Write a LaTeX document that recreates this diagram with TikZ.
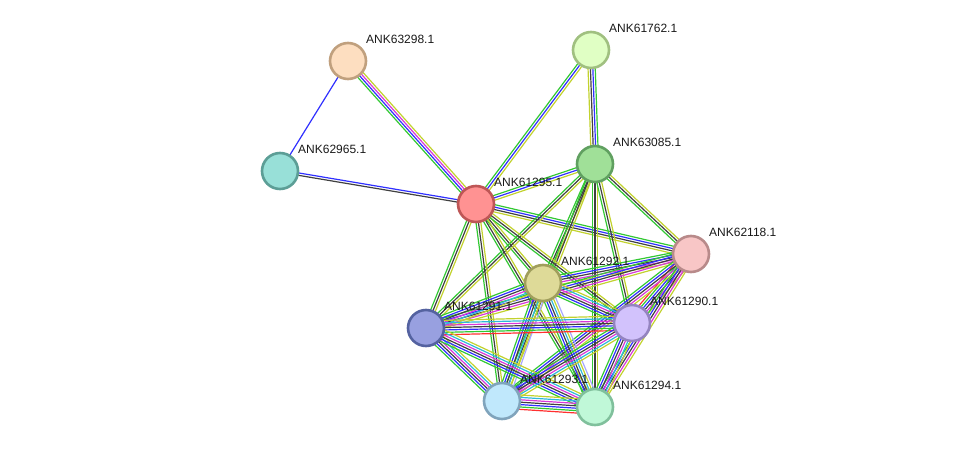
\documentclass[tikz,border=0pt]{standalone}
\usepackage{fontspec}
\setmainfont{Liberation Sans}
\usetikzlibrary{calc,backgrounds}

\definecolor{sgreen}{HTML}{33C833}
\definecolor{sblue}{HTML}{3030FF}
\definecolor{sblack}{HTML}{404040}
\definecolor{smagenta}{HTML}{D838D8}
\definecolor{scyan}{HTML}{30B8D8}
\definecolor{syellow}{HTML}{C2D22E}
\definecolor{sred}{HTML}{FF3030}
\definecolor{shomol}{HTML}{A8A8FF}

\newcommand{\stredge}[3]{%
  \foreach \c [count=\i] in {#3} {\xdef\nlines{\i}}%
  \foreach \c [count=\i] in {#3} {
    \pgfmathsetmacro{\off}{(\i-(\nlines+1)/2)*2.4}
    \draw[\c,evidence] ($(#1.center)!\off pt!90:(#2.center)$) -- ($(#2.center)!\off pt!-90:(#1.center)$);
  }}

\begin{document}
\begin{tikzpicture}[x=1pt,y=-1pt,font=\fontsize{12}{14}\selectfont,
  protein/.style={circle,minimum size=36pt,line width=2.6pt,inner sep=0pt},
  evidence/.style={line width=1.2pt},
  tag/.style={anchor=west,inner sep=0pt,text=black!90}]
  \useasboundingbox (0,0) rectangle (975,453);
  \node[protein,fill={rgb,255:red,253;green,222;blue,192},draw={rgb,255:red,192;green,160;blue,126}] (p63298) at (348,61) {};
  \node[protein,fill={rgb,255:red,152;green,224;blue,216},draw={rgb,255:red,92;green,158;blue,150}] (p62965) at (280,171) {};
  \node[protein,fill={rgb,255:red,255;green,146;blue,146},draw={rgb,255:red,190;green,86;blue,86}] (p61295) at (476,204) {};
  \node[protein,fill={rgb,255:red,224;green,255;blue,196},draw={rgb,255:red,160;green,192;blue,128}] (p61762) at (591,50) {};
  \node[protein,fill={rgb,255:red,160;green,224;blue,152},draw={rgb,255:red,96;green,160;blue,96}] (p63085) at (595,164) {};
  \node[protein,fill={rgb,255:red,248;green,198;blue,198},draw={rgb,255:red,184;green,138;blue,138}] (p62118) at (691,254) {};
  \node[protein,fill={rgb,255:red,222;green,218;blue,152},draw={rgb,255:red,160;green,158;blue,92}] (p61292) at (543,283) {};
  \node[protein,fill={rgb,255:red,210;green,194;blue,252},draw={rgb,255:red,148;green,132;blue,192}] (p61290) at (632,323) {};
  \node[protein,fill={rgb,255:red,152;green,160;blue,224},draw={rgb,255:red,84;green,98;blue,160}] (p61291) at (426,328) {};
  \node[protein,fill={rgb,255:red,192;green,232;blue,252},draw={rgb,255:red,128;green,164;blue,188}] (p61293) at (502,401) {};
  \node[protein,fill={rgb,255:red,192;green,248;blue,216},draw={rgb,255:red,128;green,192;blue,156}] (p61294) at (595,407) {};
  \foreach \p in {63298,62965,61295,61762,63085,62118,61292,61290,61291,61293,61294}
    \node[tag] (l\p) at ($(p\p.center)+(18,-22)$) {ANK\p.1};
  \begin{pgfonlayer}{background}
    \stredge{p63298}{p62965}{sblue}
    \stredge{p63298}{p61295}{sgreen,sblue,smagenta,syellow}
    \stredge{p62965}{p61295}{sblack,sblue}
    \stredge{p61762}{p61295}{sgreen,sblue,syellow}
    \stredge{p61762}{p63085}{syellow,sblack,sblue,sgreen}
    \stredge{p61295}{p63085}{syellow,sblue,sgreen}
    \stredge{p61295}{p62118}{syellow,sblack,sblue,sgreen}
    \stredge{p63085}{p62118}{sgreen,sblack,syellow}
    \foreach \q in {61292,61291,61293,61294,61290} {
      \stredge{p61295}{p\q}{sgreen,sblack,syellow}
      \stredge{p63085}{p\q}{sgreen,sblack,syellow}
    }
    \stredge{p62118}{p61292}{sgreen,sblue,sblack,smagenta,syellow}
    \stredge{p62118}{p61291}{sgreen,sblue,sblack,smagenta,syellow}
    \stredge{p62118}{p61290}{sred,sgreen,sblue,sblack,smagenta,syellow}
    \stredge{p62118}{p61293}{sgreen,sblue,sblack,smagenta,syellow}
    \stredge{p62118}{p61294}{sgreen,sblue,sblack,smagenta,syellow}
    \stredge{p61292}{p61291}{sgreen,sblue,sblack,smagenta,scyan,syellow}
    \stredge{p61292}{p61290}{sgreen,sblue,sblack,smagenta,scyan,syellow}
    \stredge{p61292}{p61293}{sgreen,sblue,sblack,scyan,syellow,shomol}
    \stredge{p61292}{p61294}{sgreen,sblue,sblack,scyan,syellow,shomol}
    \stredge{p61291}{p61290}{sred,sgreen,sblue,sblack,smagenta,scyan,syellow}
    \stredge{p61291}{p61293}{sgreen,sblue,sblack,smagenta,scyan,syellow}
    \stredge{p61291}{p61294}{sgreen,sblue,sblack,smagenta,scyan,syellow}
    \stredge{p61290}{p61293}{sgreen,sblue,sblack,smagenta,scyan,syellow}
    \stredge{p61290}{p61294}{sgreen,sblue,sblack,smagenta,scyan,syellow}
    \stredge{p61293}{p61294}{sred,sgreen,sblue,sblack,smagenta,scyan,syellow}
  \end{pgfonlayer}
\end{tikzpicture}
\end{document}
